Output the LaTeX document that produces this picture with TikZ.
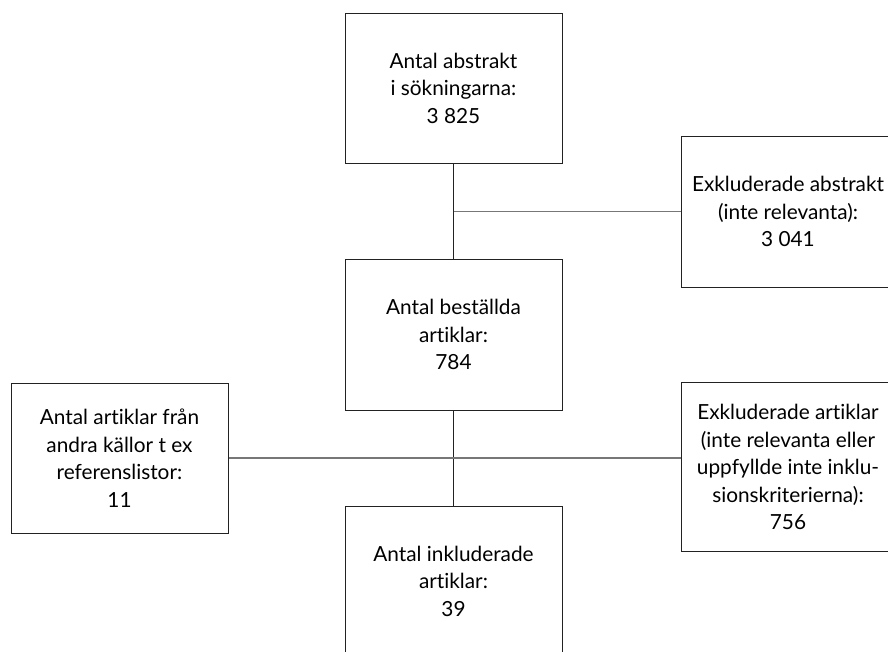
\documentclass[tikz,border=0pt]{standalone}
\usepackage{fontspec}
\setmainfont{Lato}[RawFeature={-liga;-dlig;-clig}]
\definecolor{boxline}{HTML}{222222}
\definecolor{conline}{HTML}{777777}
\begin{document}
\begin{tikzpicture}[x=1pt,y=-1pt,
  box/.style={draw=boxline,line width=1pt,minimum width=217pt,align=center,
    inner sep=0pt,font=\fontsize{20.8}{27.5}\selectfont,text=black},
  vline/.style={draw=boxline,line width=1pt},
  hline/.style={draw=conline,line width=1.3pt}]
\useasboundingbox (0,0) rectangle (888,651);
\node[box,minimum height=150pt] (top) at (453.5,88) {Antal abstrakt\\i sökningarna:\\3 825};
\node[box,minimum height=151pt] (mid) at (453.5,334.5) {Antal beställda\\artiklar:\\784};
\node[box,minimum height=150pt] (bot) at (453.5,581) {Antal inkluderade\\artiklar:\\39};
\node[box,minimum height=150pt] (lft) at (119.5,458) {Antal artiklar från\\andra källor t ex\\referenslistor:\\11};
\node[box,minimum width=214pt,minimum height=151pt] (rt1) at (788,211.5) {Exkluderade abstrakt\\(inte relevanta):\\3 041};
\node[box,minimum width=214pt,minimum height=169pt] (rt2) at (788,467) {Exkluderade artiklar\\(inte relevanta eller\\uppfyllde inte inklu-\\sionskriterierna):\\756};
\draw[vline] (top.south) -- (mid.north);
\draw[vline] (mid.south) -- (bot.north);
\draw[hline] (top.south |- rt1.west) -- (rt1.west);
\draw[hline] (lft.east) -- (lft.east -| rt2.west);
\end{tikzpicture}
\end{document}
